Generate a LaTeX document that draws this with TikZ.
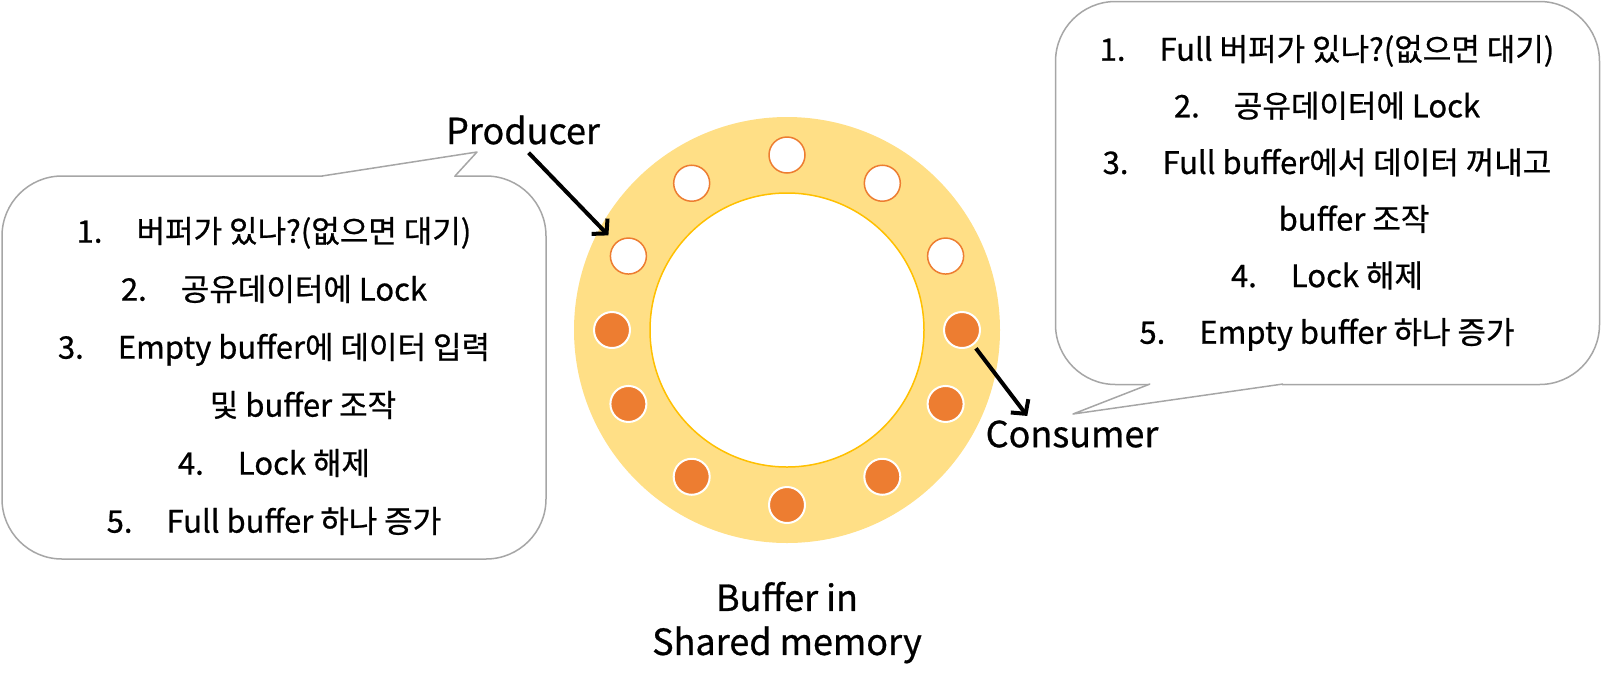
\documentclass[tikz,border=0pt]{standalone}
\usepackage{fontspec}
\setmainfont{Noto Sans CJK KR}[FakeBold=0.7]
\usetikzlibrary{arrows.meta,positioning,calc}

\definecolor{ringfill}{RGB}{255,223,134}
\definecolor{slotorange}{RGB}{237,125,49}
\definecolor{holeline}{RGB}{255,192,0}
\definecolor{boxline}{RGB}{166,166,166}

\newcommand{\stepnum}[1]{#1\hspace{1.1em}}

\begin{document}
\begin{tikzpicture}[
    x=0.5pt, y=0.5pt,
    lbl/.style={font=\fontsize{18pt}{22pt}\selectfont, inner sep=1pt, align=center},
    callbox/.style={rectangle, rounded corners=30pt, draw=boxline, line width=0.75pt, fill=white, minimum width=272pt, minimum height=191.5pt, inner sep=0pt},
    steps/.style={align=center, inner sep=0pt, font=\fontsize{15.5pt}{29pt}\selectfont},
    emptyslot/.style={circle, draw=slotorange, line width=0.75pt, fill=white, minimum size=18pt, inner sep=0pt},
    fullslot/.style={circle, draw=white, line width=1pt, fill=slotorange, minimum size=18pt, inner sep=0pt},
    arrow/.style={-{Straight Barb[length=5pt,width=11pt]}, line width=2pt},
]
\useasboundingbox (0,0) rectangle (1602,-687);

% Buffer ring in shared memory
\node[circle, fill=ringfill, minimum size=213pt, inner sep=0pt] (ring) at (787,-330) {};
\node[circle, draw=holeline, line width=0.75pt, fill=white, minimum size=137pt, inner sep=0pt] (hole) at (ring) {};

% Empty slots (upper part) and full slots (lower part)
\foreach \a in {90,123,155,25,57}
    \node[emptyslot] (s\a) at ($(ring)+(\a:175)$) {};
\foreach \a in {180,205,237,270,303,335,0}
    \node[fullslot] (s\a) at ($(ring)+(\a:175)$) {};

% Labels
\node[lbl] (prod) at (523,-130) {Producer};
\node[lbl] (cons) at (1072,-434) {Consumer};
\node[lbl, below=18pt of ring] (mem) {Buffer in\\Shared memory};

% Arrows
\draw[arrow, shorten <=4pt, shorten >=5pt] (prod.south) -- (s155);
\draw[arrow, shorten <=2pt] (s0) -- ([xshift=22pt,yshift=1pt]cons.north west);

% Producer callout
\node[callbox] (lbox) at (274,-367.5) {};
\fill[white] (322,-176) -- (477,-152) -- (455,-176) -- cycle;
\draw[white, line width=1.5pt] (323,-176) -- (454,-176);
\draw[boxline, line width=0.75pt, line join=round] (322,-176) -- (477,-152) -- (455,-176);
\node[steps] (lsteps) at (274,-376) {\stepnum{1.}버퍼가 있나?(없으면 대기)\\
    \stepnum{2.}공유데이터에 Lock\\
    \stepnum{3.}Empty buffer에 데이터 입력\\
    \hspace*{29pt}및 buffer 조작\\
    \stepnum{4.}Lock 해제\\
    \stepnum{5.}Full buffer 하나 증가};

% Consumer callout
\node[callbox] (rbox) at (1327.5,-193) {};
\fill[white] (1150,-384) -- (1073,-414) -- (1283,-384) -- cycle;
\draw[white, line width=1.5pt] (1151,-384) -- (1282,-384);
\draw[boxline, line width=0.75pt, line join=round] (1150,-384) -- (1073,-414) -- (1283,-384);
\node[steps, font=\fontsize{15.5pt}{28.3pt}\selectfont] (rsteps) at (1327,-193) {\stepnum{1.}Full 버퍼가 있나?(없으면 대기)\\
    \stepnum{2.}공유데이터에 Lock\\
    \stepnum{3.}Full buffer에서 데이터 꺼내고\\
    \hspace*{27pt}buffer 조작\\
    \stepnum{4.}Lock 해제\\
    \stepnum{5.}Empty buffer 하나 증가};

\end{tikzpicture}
\end{document}
